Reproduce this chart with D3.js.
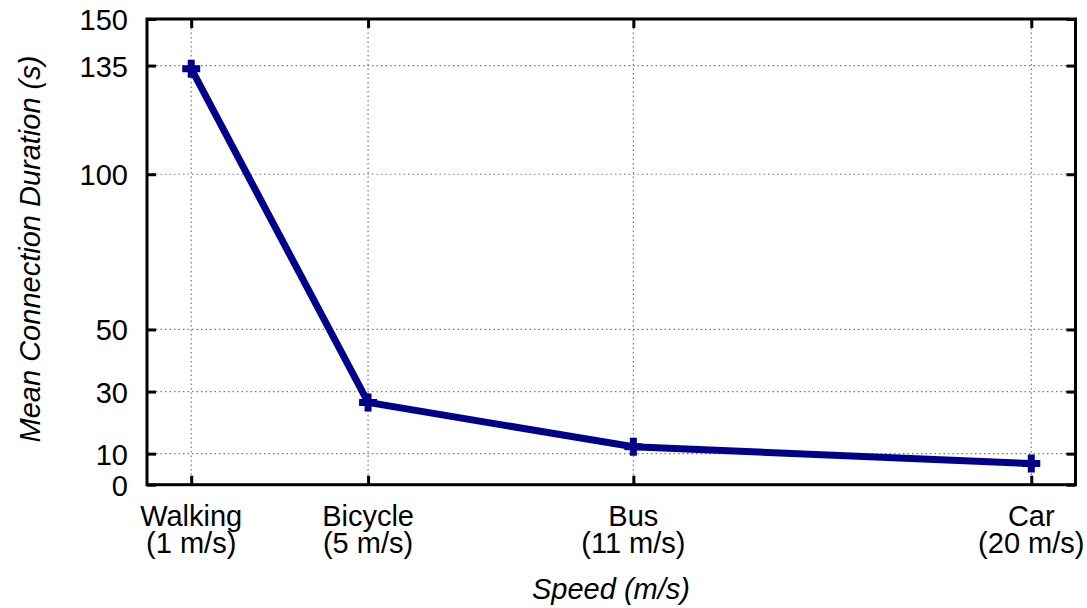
<!DOCTYPE html>
<html><head><meta charset="utf-8">
<script src="https://cdn.jsdelivr.net/npm/d3@7"></script>
<style>body{margin:0;background:#fff}svg{display:block}text{font-family:"Liberation Sans",Arial,sans-serif;fill:#000}</style>
</head><body><svg id="c" width="1087" height="608"></svg>
<script>
const categories = ["Walking", "Bicycle", "Bus", "Car"];
const speedLabels = ["(1 m/s)", "(5 m/s)", "(11 m/s)", "(20 m/s)"];
const speeds = [1, 5, 11, 20];
const durations = [134, 26.5, 12.2, 6.8];
const yTicks = [0, 10, 30, 50, 100, 135, 150];

const FS = 29;
const svg = d3.select("#c");
const L = 147, R = 1075.5, T = 19, B = 484.7;
const x = d3.scaleLinear().domain([0, 21]).range([L, R]);
const y = d3.scaleLinear().domain([0, 150]).range([B, T]);

// grid
const g = svg.append("g");
g.selectAll(".hg").data(yTicks.filter(v => v > 0 && v < 150)).enter().append("line")
  .attr("x1", L).attr("x2", R).attr("y1", d => y(d)).attr("y2", d => y(d))
  .attr("stroke", "#777").attr("stroke-width", 1.2).attr("stroke-dasharray", "1.5,3");
g.selectAll(".vg").data(speeds).enter().append("line")
  .attr("y1", T).attr("y2", B).attr("x1", d => x(d)).attr("x2", d => x(d))
  .attr("stroke", "#777").attr("stroke-width", 1.2).attr("stroke-dasharray", "1.5,3");

// axes with inward ticks
const axL = svg.append("g").attr("transform", `translate(${L},0)`)
  .call(d3.axisLeft(y).tickValues(yTicks).tickSizeInner(-9).tickSizeOuter(0).tickPadding(19));
const axR = svg.append("g").attr("transform", `translate(${R},0)`)
  .call(d3.axisRight(y).tickValues(yTicks).tickSizeInner(-9).tickSizeOuter(0).tickFormat(""));
const axB = svg.append("g").attr("transform", `translate(0,${B})`)
  .call(d3.axisBottom(x).tickValues(speeds).tickSizeInner(-9).tickSizeOuter(0).tickFormat(""));
const axT = svg.append("g").attr("transform", `translate(0,${T})`)
  .call(d3.axisTop(x).tickValues(speeds).tickSizeInner(-9).tickSizeOuter(0).tickFormat(""));
[axL, axR, axB, axT].forEach(a => {
  a.select(".domain").remove();
  a.selectAll(".tick line").attr("stroke", "#000").attr("stroke-width", 3);
});
axL.selectAll(".tick text").attr("font-size", FS).attr("font-family", "Liberation Sans, Arial, sans-serif").attr("dy", "0.36em");

// frame
svg.append("rect").attr("x", L).attr("y", T).attr("width", R - L).attr("height", B - T)
  .attr("fill", "none").attr("stroke", "#000").attr("stroke-width", 3);

// x labels
const xl = svg.append("g");
categories.forEach((c, i) => {
  xl.append("text").attr("x", x(speeds[i])).attr("y", 526).attr("text-anchor", "middle").attr("font-size", FS).text(c);
  xl.append("text").attr("x", x(speeds[i])).attr("y", 553).attr("text-anchor", "middle").attr("font-size", FS).text(speedLabels[i]);
});

// axis titles
svg.append("text").attr("x", 611).attr("y", 599).attr("text-anchor", "middle")
  .attr("font-size", FS).attr("font-style", "italic").text("Speed (m/s)");
svg.append("text").attr("transform", `translate(40,249) rotate(-90)`).attr("text-anchor", "middle")
  .attr("font-size", FS).attr("font-style", "italic").text("Mean Connection Duration (s)");

// line
const pts = speeds.map((s, i) => [s, durations[i]]);
svg.append("path").datum(pts)
  .attr("d", d3.line().x(d => x(d[0])).y(d => y(d[1])))
  .attr("fill", "none").attr("stroke", "#00008b").attr("stroke-width", 7).attr("stroke-linejoin", "miter");
svg.selectAll(".mk").data(pts).enter().append("path")
  .attr("transform", d => `translate(${x(d[0])},${y(d[1])})`)
  .attr("d", "M-9,0H9M0,-9V9")
  .attr("stroke", "#00008b").attr("stroke-width", 7).attr("fill", "none");
</script></body></html>
